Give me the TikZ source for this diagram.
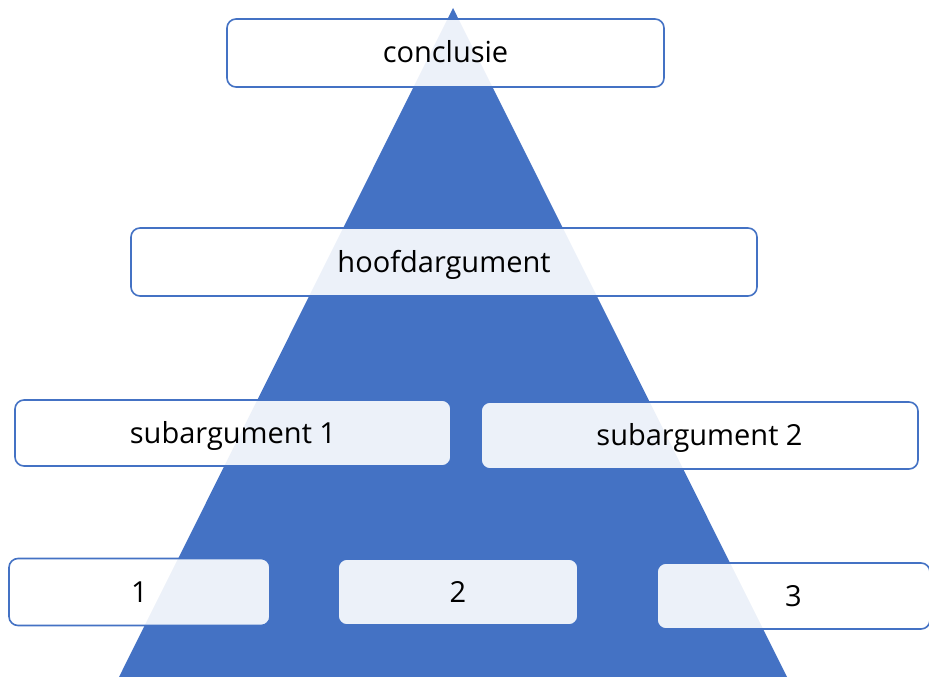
\documentclass[tikz,border=0pt]{standalone}
\usepackage{fontspec}
\setmainfont{Open Sans}
\definecolor{pblue}{HTML}{4472C4}
\tikzset{
  lbox/.style={draw=pblue, line width=1.6pt, rounded corners=9pt, fill=white, fill opacity=0.9, text opacity=1,
    inner sep=0pt, font=\fontsize{29}{32}\selectfont, text height=24pt, text depth=4pt, text=black},
}
\begin{document}
\begin{tikzpicture}[x=1pt,y=-1pt]
\useasboundingbox (0,0) rectangle (929,677);
\fill[pblue] (453,8) coordinate (apex) -- (119,677) -- (787,677) -- cycle;
\node[lbox, minimum width=437pt, minimum height=68pt] (conc) at (445.5,53) {conclusie};
\node[lbox, minimum width=626pt, minimum height=68pt] (hoofd) at (444,262) {hoofdargument};
\node[lbox, minimum width=436pt, minimum height=66pt] (sub1) at (233,433) {subargument 1};
\node[lbox, minimum width=437pt, minimum height=67pt] (sub2) at (699.5,435.5) {subargument 2};
\node[lbox, minimum width=261pt, minimum height=67pt] (a1) at (139.5,592) {1};
\node[lbox, minimum width=240pt, minimum height=66pt] (a2) at (458,592) {2};
\node[lbox, minimum width=273pt, minimum height=66pt] (a3) at (793.5,596) {3};
\end{tikzpicture}
\end{document}
